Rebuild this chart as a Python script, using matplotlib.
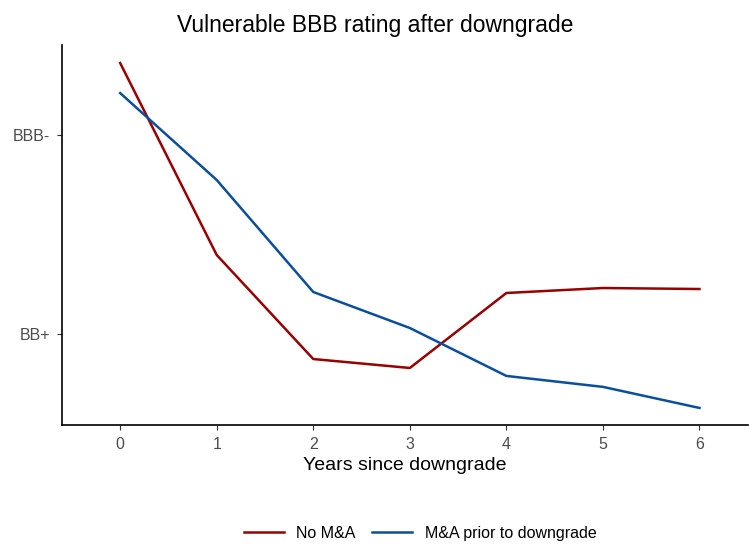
import matplotlib
matplotlib.use("Agg")
import matplotlib.pyplot as plt
plt.rcParams['font.family'] = ['Liberation Sans', 'DejaVu Sans']

years = [0, 1, 2, 3, 4, 5, 6]
no_ma = [1.362, 0.397, -0.126, -0.171, 0.206, 0.231, 0.226]
ma_prior = [1.211, 0.774, 0.211, 0.030, -0.211, -0.266, -0.372]
ytick_vals = [0, 1]
ytick_labels = ["BB+", "BBB-"]

fig = plt.figure(figsize=(7.5, 5.44), dpi=100)
ax = fig.add_axes([0.083, 0.219, 0.914, 0.698])
ax.plot(years, no_ma, color="#990000", lw=1.8, label="No M&A")
ax.plot(years, ma_prior, color="#0b4f9c", lw=1.8, label="M&A prior to downgrade")
ax.set_xlim(-0.6, 6.5)
ax.set_ylim(-0.457, 1.452)
ax.set_xticks(years)
ax.set_yticks(ytick_vals)
ax.set_yticklabels(ytick_labels)
for s in ["top", "right"]:
    ax.spines[s].set_visible(False)
for s in ["left", "bottom"]:
    ax.spines[s].set_linewidth(1.2)
ax.tick_params(colors="#4d4d4d", labelsize=11.5, pad=5)
ax.tick_params(axis="both", color="#333333")
ax.set_xlabel("Years since downgrade", fontsize=14, labelpad=4)
fig.suptitle("Vulnerable BBB rating after downgrade", fontsize=16.5, y=0.975)
fig.legend(loc="center", bbox_to_anchor=(0.56, 0.02), ncol=2, frameon=False,
           fontsize=11.5, handlelength=2.5, columnspacing=1.0)
fig.savefig("out.png", dpi=100)
